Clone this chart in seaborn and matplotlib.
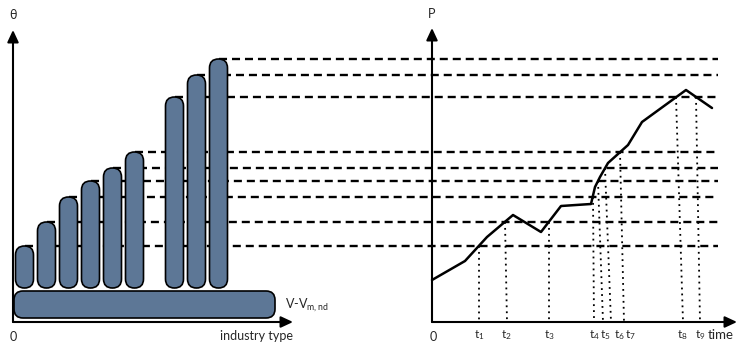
import numpy as np
import pandas as pd
import matplotlib
matplotlib.use("Agg")
import matplotlib.pyplot as plt
from matplotlib.patches import FancyBboxPatch
import seaborn as sns

# ---- data -------------------------------------------------------------
# threshold theta reached by each industry type (left panel)
industry_theta = [7.6, 10.0, 12.5, 14.1, 15.4, 17.0, 22.5, 24.7, 26.3]
bar_floor = 3.4            # lower end of the industry bars
band_low, band_high = 0.4, 3.1   # V - V_m,nd band under the bars
band_length = 26.1

# price path P(t) (right panel)
time = [0.0, 3.3, 5.5, 8.1, 10.9, 12.9, 15.9, 16.3, 16.8, 17.6, 19.6, 21.0, 25.4, 28.0]
price = [4.2, 6.1, 8.5, 10.7, 9.0, 11.6, 11.8, 13.5, 14.5, 15.9, 17.7, 20.0, 23.2, 21.4]

# moments where the price reaches a threshold
cross_time = [4.7, 7.3, 11.7, 16.1, 16.6, 17.3, 18.8, 24.4, 26.4]
cross_theta = [0, 1, 1, 2, 3, 4, 5, 6, 6]          # index into industry_theta
foot_time = [4.7, 7.5, 11.7, 16.2, 17.1, 17.9, 19.2, 25.1, 26.8]
tick_time = [4.7, 7.4, 11.7, 16.2, 17.3, 18.7, 19.8, 25.0, 26.8]
tick_labels = [r"t$_{%d}$" % i for i in range(1, 10)]

# ---- style ------------------------------------------------------------
sns.set_theme(style="white")
plt.rcParams["font.family"] = ["Lato", "DejaVu Sans"]
plt.rcParams["mathtext.fontset"] = "custom"
plt.rcParams["mathtext.rm"] = "Lato"
plt.rcParams["mathtext.it"] = "Lato"

bar_face = "#5d7796"
ink = "black"

fig = plt.figure(figsize=(7.42, 3.42), dpi=100)
ax = fig.add_axes([0, 0, 1, 1])

left_x0 = 1.3      # origin of the theta panel
right_x0 = 43.2    # origin of the price panel
dash_end = 71.8


def axis_arrow(x0, y0, x1, y1):
    ax.annotate("", xy=(x1, y1), xytext=(x0, y0),
                arrowprops=dict(arrowstyle="-|>,head_length=0.6,head_width=0.28",
                                lw=1.5, color=ink, shrinkA=0, shrinkB=0),
                zorder=6)


# ---- right panel: price path -------------------------------------------
df = pd.DataFrame({"t": right_x0 + np.array(time), "P": price})
sns.lineplot(data=df, x="t", y="P", ax=ax, color=ink, lw=1.8,
             sort=False, estimator=None, zorder=5)
ax.set_xlim(0, 74.2)
ax.set_ylim(-2.0, 32.2)
ax.axis("off")

for tc, k, tf in zip(cross_time, cross_theta, foot_time):
    ax.plot([right_x0 + tc, right_x0 + tf], [industry_theta[k], 0],
            color=ink, lw=1.3, linestyle=(0, (1, 2.3)), zorder=2)

for tt, lab in zip(tick_time, tick_labels):
    ax.text(right_x0 + tt, -1.35, lab, ha="center", va="center", fontsize=8.5)

axis_arrow(right_x0, 0, right_x0, 29.4)
axis_arrow(right_x0, 0, 73.7, 0)
ax.text(right_x0, 30.8, "P", ha="center", va="center", fontsize=9)
ax.text(right_x0 + 0.1, -1.5, "0", ha="center", va="center", fontsize=9)
ax.text(72.1, -1.3, "time", ha="center", va="center", fontsize=9.5)

# ---- left panel: industry bars ----------------------------------------
bar_w = 1.8
for i, th in enumerate(industry_theta):
    left = 1.55 + 2.2 * i + (1.8 if i >= 6 else 0.0)
    cx = left + bar_w / 2
    # threshold line running across to the price panel
    ax.plot([cx, dash_end], [th, th], color=ink, lw=1.7,
            linestyle=(0, (3.4, 2.1)), zorder=1)
    ax.add_patch(FancyBboxPatch((left, bar_floor), bar_w, th - bar_floor,
                                boxstyle="round,pad=0,rounding_size=0.9",
                                facecolor=bar_face, edgecolor=ink, lw=1.2,
                                zorder=3))

ax.add_patch(FancyBboxPatch((1.4, band_low), band_length, band_high - band_low,
                            boxstyle="round,pad=0,rounding_size=0.9",
                            facecolor=bar_face, edgecolor=ink, lw=1.2, zorder=3))

axis_arrow(left_x0, 0, left_x0, 29.2)
axis_arrow(left_x0, 0, 29.3, 0)
ax.text(left_x0, 30.7, "θ", ha="center", va="center", fontsize=9)
ax.text(left_x0, -1.5, "0", ha="center", va="center", fontsize=9)
ax.text(25.6, -1.35, "industry type", ha="center", va="center", fontsize=9)
ax.text(28.5, 1.7, r"V-V$_{\mathrm{m,nd}}$", ha="left", va="center", fontsize=9)

fig.savefig("out.png", dpi=100, facecolor="white")
